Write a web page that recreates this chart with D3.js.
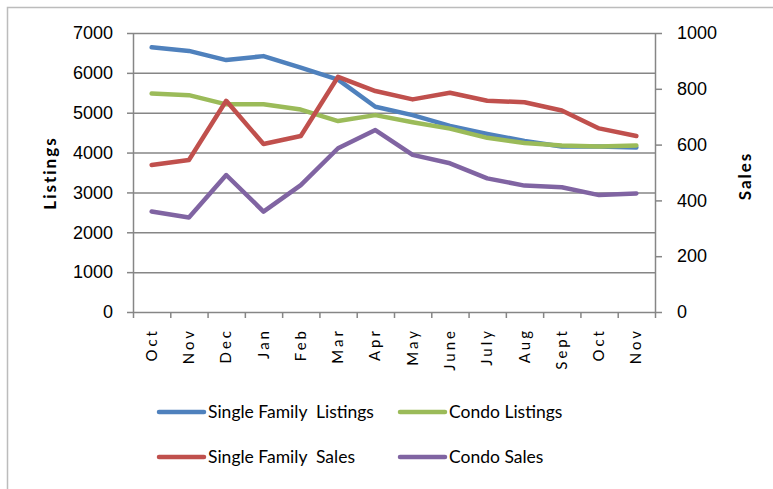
<!DOCTYPE html>
<html>
<head>
<meta charset="utf-8">
<script src="https://cdn.jsdelivr.net/npm/d3@7"></script>
<style>
  body { margin: 0; background: #fff; }
  svg { font-family: Lato, 'Open Sans', sans-serif; }
  .axis path, .axis line { stroke: #868686; stroke-width: 1.5; }
  .axis text { fill: #000; font-size: 18px; }
  .grid line { stroke: #868686; stroke-width: 1.5; }
  .grid path { display: none; }
  .title { font-weight: bold; font-size: 17px; letter-spacing: 2px; }
  .xlab { font-size: 15px; letter-spacing: 3px; }
  .leg { font-size: 17.5px; white-space: pre; }
</style>
</head>
<body>
<svg id="chart" width="773" height="489"></svg>
<script>
// data
var months = ['Oct', 'Nov', 'Dec', 'Jan', 'Feb', 'Mar', 'Apr', 'May', 'June', 'July', 'Aug', 'Sept', 'Oct', 'Nov'];
var sfListings = [6640, 6550, 6320, 6420, 6130, 5830, 5150, 4940, 4670, 4470, 4290, 4150, 4150, 4130];
var condoListings = [5480, 5440, 5210, 5210, 5080, 4790, 4940, 4760, 4600, 4370, 4240, 4180, 4150, 4180];
var sfSales = [527, 545, 757, 602, 631, 843, 792, 762, 786, 757, 752, 722, 658, 631];
var condoSales = [360, 339, 491, 360, 455, 587, 652, 563, 533, 479, 453, 447, 419, 425];
var listingTicks = [0, 1000, 2000, 3000, 4000, 5000, 6000, 7000];
var salesTicks = [0, 200, 400, 600, 800, 1000];

var series = [
  { name: 'Single Family  Listings', values: sfListings, axis: 'left', color: '#4F81BD' },
  { name: 'Condo Listings', values: condoListings, axis: 'left', color: '#9BBB59' },
  { name: 'Single Family  Sales', values: sfSales, axis: 'right', color: '#C0504D' },
  { name: 'Condo Sales', values: condoSales, axis: 'right', color: '#8064A2' }
];

var svg = d3.select('#chart');

// outer frame
svg.append('rect')
  .attr('x', 7.5).attr('y', 7.5)
  .attr('width', 800).attr('height', 600)
  .attr('fill', 'none')
  .attr('stroke', '#bcbcbc')
  .attr('stroke-width', 1.5);

var plot = { left: 133, right: 655, top: 33, bottom: 312 };

var x = d3.scaleLinear().domain([0, months.length]).range([plot.left, plot.right]);
var yL = d3.scaleLinear().domain([0, 7000]).range([plot.bottom, plot.top]);
var yR = d3.scaleLinear().domain([0, 1000]).range([plot.bottom, plot.top]);

// gridlines
svg.append('g')
  .attr('class', 'grid')
  .attr('transform', 'translate(' + plot.left + ',0)')
  .call(d3.axisLeft(yL).tickValues(listingTicks.slice(1)).tickSize(-(plot.right - plot.left)).tickFormat(''));

// left axis
svg.append('g')
  .attr('class', 'axis')
  .attr('transform', 'translate(' + plot.left + ',0)')
  .call(d3.axisLeft(yL).tickValues(listingTicks).tickSize(6).tickSizeOuter(0).tickPadding(14).tickFormat(d3.format('d')));

// right axis
svg.append('g')
  .attr('class', 'axis')
  .attr('transform', 'translate(' + plot.right + ',0)')
  .call(d3.axisRight(yR).tickValues(salesTicks).tickSize(7).tickSizeOuter(0).tickPadding(15).tickFormat(d3.format('d')));

// x axis
svg.append('g')
  .attr('class', 'axis')
  .attr('transform', 'translate(0,' + plot.bottom + ')')
  .call(d3.axisBottom(x).tickValues(d3.range(months.length + 1)).tickSize(6).tickSizeOuter(0).tickFormat(''));

// month labels
svg.selectAll('.xlab')
  .data(months)
  .enter()
  .append('text')
  .attr('class', 'xlab')
  .attr('text-anchor', 'end')
  .attr('transform', (d, i) => 'translate(' + (x(i + 0.5) + 5) + ',' + (plot.bottom + 16) + ') rotate(-90)')
  .text(d => d);

// axis titles
svg.append('text')
  .attr('class', 'title')
  .attr('text-anchor', 'middle')
  .attr('transform', 'translate(56,173) rotate(-90)')
  .text('Listings');

svg.append('text')
  .attr('class', 'title')
  .attr('text-anchor', 'middle')
  .attr('transform', 'translate(751,176) rotate(-90)')
  .text('Sales');

// lines
var line = function (s) {
  var y = s.axis === 'left' ? yL : yR;
  return d3.line()
    .x((d, i) => x(i + 0.5))
    .y(d => y(d))(s.values);
};

svg.selectAll('.series')
  .data(series)
  .enter()
  .append('path')
  .attr('class', 'series')
  .attr('d', line)
  .attr('fill', 'none')
  .attr('stroke', d => d.color)
  .attr('stroke-width', 4.5)
  .attr('stroke-linecap', 'round')
  .attr('stroke-linejoin', 'round');

// legend
var legPos = [[159, 412], [400, 412], [159, 457], [400, 457]];
var leg = svg.selectAll('.legitem')
  .data(series)
  .enter()
  .append('g')
  .attr('class', 'legitem')
  .attr('transform', (d, i) => 'translate(' + legPos[i][0] + ',' + legPos[i][1] + ')');

leg.append('line')
  .attr('x1', 0).attr('x2', 45)
  .attr('stroke', d => d.color)
  .attr('stroke-width', 4.5)
  .attr('stroke-linecap', 'round');

leg.append('text')
  .attr('class', 'leg')
  .attr('x', 49)
  .attr('dy', '0.35em')
  .text(d => d.name);
</script>
</body>
</html>
